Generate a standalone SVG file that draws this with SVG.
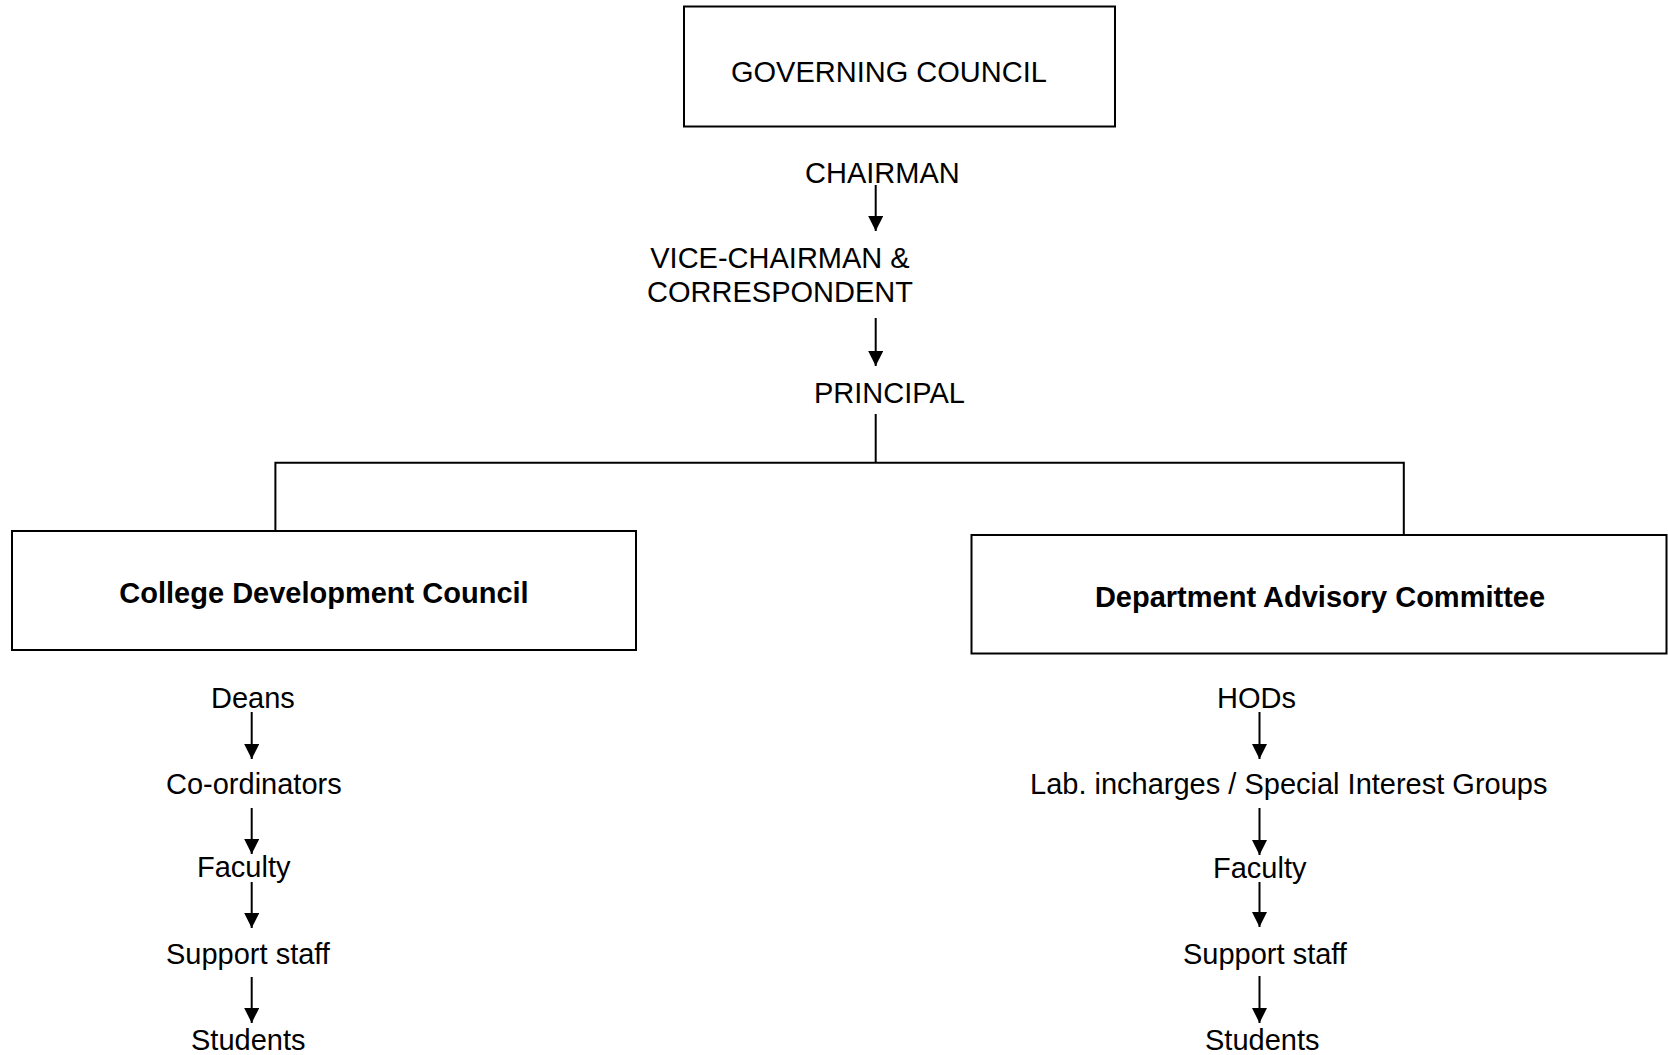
<svg xmlns="http://www.w3.org/2000/svg" width="1668" height="1055" viewBox="0 0 1668 1055">
<style>
  .t { font-family: "Liberation Sans", Arial, Helvetica, sans-serif; font-size: 29px; fill: #000; }
  .b { font-weight: bold; }
  .box { fill: #fff; stroke: #000; stroke-width: 2; }
  .ln { fill: none; stroke: #000; stroke-width: 2; }
  .ar { fill: none; stroke: #000; stroke-width: 2; marker-end: url(#ah); }
</style>
<defs>
  <marker id="ah" markerUnits="userSpaceOnUse" markerWidth="15" markerHeight="15" refX="15" refY="7.5" orient="auto">
    <path d="M0,0 L15,7.5 L0,15 z" fill="#000"/>
  </marker>
</defs>
<rect width="1668" height="1055" fill="#fff"/>

<g id="connectors">
  <line class="ar" x1="875.7" y1="185" x2="875.7" y2="231"/>
  <line class="ar" x1="875.7" y1="318" x2="875.7" y2="366"/>
  <polyline class="ln" points="875.7,414 875.7,462.7"/>
  <polyline class="ln" points="275.4,535 275.4,462.7 1403.8,462.7 1403.8,535"/>
  <line class="ar" x1="251.7" y1="712" x2="251.7" y2="759"/>
  <line class="ar" x1="251.7" y1="808" x2="251.7" y2="854"/>
  <line class="ar" x1="251.7" y1="882" x2="251.7" y2="928"/>
  <line class="ar" x1="251.7" y1="977" x2="251.7" y2="1023"/>
  <line class="ar" x1="1259.5" y1="712" x2="1259.5" y2="759"/>
  <line class="ar" x1="1259.5" y1="808" x2="1259.5" y2="855"/>
  <line class="ar" x1="1259.5" y1="882" x2="1259.5" y2="927"/>
  <line class="ar" x1="1259.5" y1="976" x2="1259.5" y2="1023"/>
</g>

<g id="governing-council">
  <rect class="box" x="684" y="6.5" width="431" height="120"/>
  <text class="t" x="731" y="82">GOVERNING COUNCIL</text>
</g>
<g id="chairman">
  <text class="t" x="805" y="183">CHAIRMAN</text>
</g>
<g id="vice-chairman">
  <text class="t" x="780" y="268" text-anchor="middle">VICE-CHAIRMAN &amp;</text>
  <text class="t" x="780" y="301.5" text-anchor="middle">CORRESPONDENT</text>
</g>
<g id="principal">
  <text class="t" x="814" y="403">PRINCIPAL</text>
</g>

<g id="college-development-council">
  <rect class="box" x="12" y="531" width="624" height="119"/>
  <text class="t b" x="324" y="602.5" text-anchor="middle">College Development Council</text>
</g>
<g id="department-advisory-committee">
  <rect class="box" x="971.5" y="535" width="695" height="118.5"/>
  <text class="t b" x="1320" y="607" text-anchor="middle">Department Advisory Committee</text>
</g>

<g id="cdc-deans"><text class="t" x="211" y="707.5">Deans</text></g>
<g id="cdc-coordinators"><text class="t" x="166" y="793.5">Co-ordinators</text></g>
<g id="cdc-faculty"><text class="t" x="197" y="877">Faculty</text></g>
<g id="cdc-support-staff"><text class="t" x="166" y="963.5">Support staff</text></g>
<g id="cdc-students"><text class="t" x="191" y="1050">Students</text></g>

<g id="dac-hods"><text class="t" x="1217" y="707.5">HODs</text></g>
<g id="dac-lab"><text class="t" x="1030" y="793.5">Lab. incharges / Special Interest Groups</text></g>
<g id="dac-faculty"><text class="t" x="1213" y="878">Faculty</text></g>
<g id="dac-support-staff"><text class="t" x="1183" y="963.5">Support staff</text></g>
<g id="dac-students"><text class="t" x="1205" y="1050">Students</text></g>
</svg>
